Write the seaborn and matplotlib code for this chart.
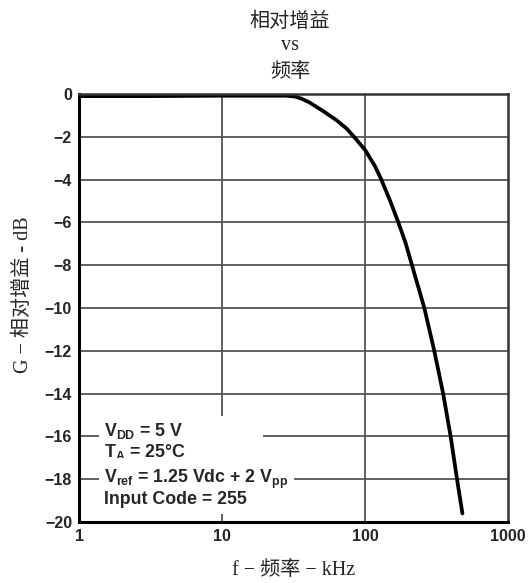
import numpy as np
import pandas as pd
import seaborn as sns
import matplotlib.pyplot as plt

# values
freq_khz = [1, 3, 10, 20, 28, 32.4, 36, 41, 51, 63, 74.5, 85, 101, 118, 130, 150, 171, 193,
            213, 260, 305, 352, 397, 440, 480]
gain_db = [-0.1, -0.1, -0.08, -0.08, -0.08, -0.12, -0.22, -0.4, -0.8, -1.22, -1.62, -2.05, -2.65,
           -3.4, -4.0, -5.0, -6.0, -7.0, -8.0, -10.0, -12.0, -14.0, -16.0, -18.0, -19.6]
x_ticks = [1, 10, 100, 1000]
x_tick_labels = ['1', '10', '100', '1000']
y_ticks = list(range(0, -21, -2))

df = pd.DataFrame({'f': freq_khz, 'g': gain_db})

sns.set_style('white')
plt.rcParams['axes.unicode_minus'] = True
cjk = ['Liberation Serif', 'Noto Sans CJK SC']
sans = ['Liberation Sans', 'DejaVu Sans']

fig = plt.figure(figsize=(5.31, 5.83), dpi=100)
ax = fig.add_axes([0.1488, 0.1046, 0.8079, 0.7342])

ax.set_xscale('log')
ax.set_xlim(1, 1000)
ax.set_ylim(-20, 0)

# grid
for yv in y_ticks[1:-1]:
    ax.axhline(yv, color='#555555', lw=1.3, zorder=1)
for xv in [10, 100]:
    ax.axvline(xv, color='#555555', lw=1.3, zorder=1)

sns.lineplot(data=df, x='f', y='g', color='black', lw=2.7, ax=ax, zorder=5)

ax.set_xticks(x_ticks)
ax.set_xticklabels(x_tick_labels)
ax.minorticks_off()
ax.set_yticks(y_ticks)
ax.set_yticklabels([str(v).replace('-', '\u2212') for v in y_ticks])
ax.tick_params(length=0, labelsize=11.5)
ax.tick_params(axis='y', pad=5)
ax.tick_params(axis='x', pad=5)
for lab in ax.get_xticklabels() + ax.get_yticklabels():
    lab.set_family(sans)
    lab.set_fontweight('bold')

for side, sp in ax.spines.items():
    sp.set_color('black' if side in ('left', 'bottom') else '#333333')
    sp.set_linewidth(2.2 if side in ('left', 'bottom') else 1.8)
    sp.set_zorder(6)

ax.set_xlabel('f \u2212 频率 \u2212 kHz', family=cjk, fontsize=14.5, labelpad=12)
ax.set_ylabel('G \u2212 相对增益 - dB', family=cjk, fontsize=14.5)
ax.yaxis.set_label_coords(-0.108, 0.53)

# three-line title
for txt, ypx in [('相对增益', 22), ('vs', 46), ('频率', 72)]:
    fig.text(290 / 531, 1 - ypx / 583, txt, family=cjk, fontsize=14.5,
             ha='center', va='center')

# condition text boxes
plt.rcParams['mathtext.fontset'] = 'custom'
plt.rcParams['mathtext.rm'] = 'Liberation Sans:bold'
plt.rcParams['mathtext.it'] = 'Liberation Sans:bold'
plt.rcParams['mathtext.bf'] = 'Liberation Sans:bold'
box = dict(facecolor='white', edgecolor='none', pad=4)
ax.text(1.5, -15.3, 'V$_{\\mathrm{DD}}$ = 5 V\nT$_{\\mathrm{A}}$ = 25°C\u2003\u2003\u2003\u2003\u2003',
        family=sans, fontweight='bold', fontsize=12.8, va='top', ha='left',
        linespacing=1.05, bbox=box, zorder=7)
ax.text(1.5, -17.45, 'V$_{\\mathrm{ref}}$ = 1.25 Vdc + 2 V$_{\\mathrm{pp}}$\nInput Code = 255',
        family=sans, fontweight='bold', fontsize=12.8, va='top', ha='left',
        linespacing=1.05, bbox=box, zorder=7)

fig.savefig('out.png', dpi=100)
